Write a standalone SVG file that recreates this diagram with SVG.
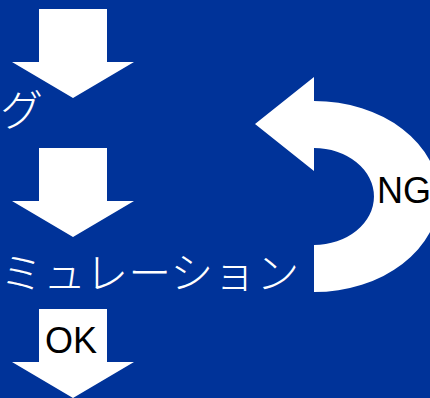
<svg xmlns="http://www.w3.org/2000/svg" width="430" height="398" viewBox="0 0 430 398">
<style>
.arrow{fill:#ffffff}
.jp{font-family:"Noto Sans CJK JP","Noto Sans",sans-serif;font-size:43px;font-weight:300;fill:#ffffff}
.lbl{font-family:"Liberation Sans",Arial,sans-serif;font-size:36px;fill:#000000}
</style>
<defs>
<path id="down" d="M39 0 H107 V53 H134 L73 89 L12 53 H39 Z"/>
</defs>
<rect width="430" height="398" fill="#003399"/>
<g id="step1-label"><text class="jp" x="0" y="126">グ</text></g>
<g id="step2-label"><text class="jp" x="0" y="289">ミュレーション</text></g>
<g id="connectors">
<use href="#down" class="arrow" y="9"/>
<use href="#down" class="arrow" y="148"/>
<g id="ok-arrow">
<use href="#down" class="arrow" y="309"/>
<text class="lbl" x="45" y="353">OK</text>
</g>
<g id="ng-arrow">
<path class="arrow" d="M255 124 L314 77 V101 A125 95.5 0 0 1 314 292 V245 A60 48.5 0 0 0 314 148 V171 Z"/>
<text class="lbl" x="377" y="203">NG</text>
</g>
</g>
</svg>
